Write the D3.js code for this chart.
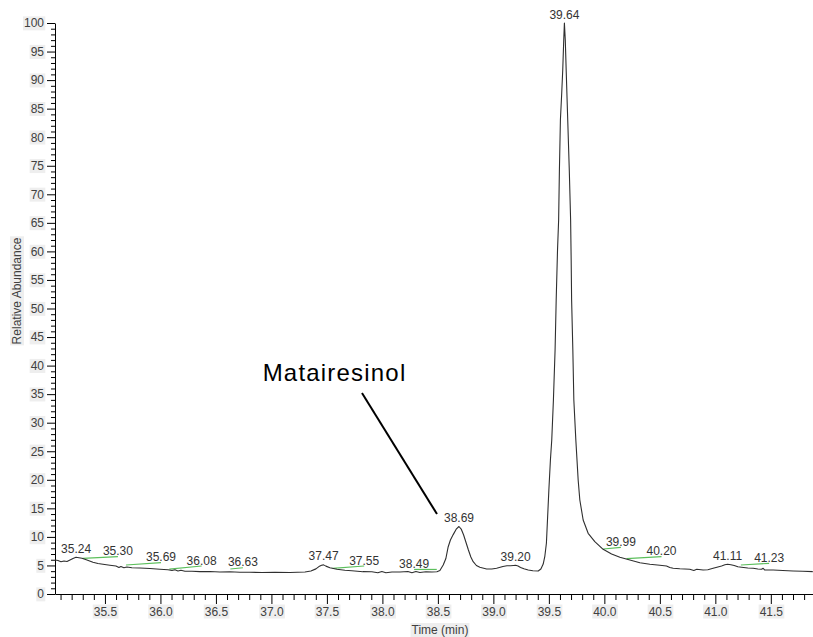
<!DOCTYPE html>
<html>
<head>
<meta charset="utf-8">
<script src="https://cdn.jsdelivr.net/npm/d3@7"></script>
<style>
  html, body { margin: 0; padding: 0; background: #ffffff; }
  svg { display: block; font-family: Arial, "Liberation Sans", sans-serif; }
</style>
</head>
<body>
<script>
// Chromatogram trace: retention time (min) and relative abundance (%)
const traceTime = [
  35.050, 35.077, 35.104, 35.131, 35.158, 35.185, 35.212, 35.239, 35.266, 35.293,
  35.338, 35.392, 35.437, 35.482, 35.545, 35.599, 35.626, 35.644, 35.671, 35.698,
  35.743, 35.815, 35.905, 35.995, 36.068, 36.104, 36.131, 36.158, 36.185, 36.221,
  36.284, 36.356, 36.446, 36.536, 36.626, 36.716, 36.806, 36.914, 37.032, 37.167,
  37.302, 37.356, 37.401, 37.428, 37.452, 37.470, 37.491, 37.527, 37.590, 37.662,
  37.725, 37.824, 37.905, 37.959, 37.995, 38.032, 38.086, 38.158, 38.230, 38.266,
  38.302, 38.338, 38.392, 38.446, 38.491, 38.518, 38.548, 38.572, 38.593, 38.613,
  38.638, 38.665, 38.690, 38.710, 38.732, 38.755, 38.775, 38.797, 38.818, 38.847,
  38.878, 38.939, 38.986, 39.029, 39.086, 39.122, 39.155, 39.180, 39.200, 39.222,
  39.245, 39.275, 39.314, 39.356, 39.404, 39.428, 39.449, 39.464, 39.478, 39.500,
  39.514, 39.526, 39.541, 39.556, 39.566, 39.578, 39.588, 39.595, 39.604, 39.615,
  39.625, 39.634, 39.640, 39.648, 39.656, 39.670, 39.684, 39.696, 39.701, 39.705,
  39.716, 39.725, 39.743, 39.764, 39.779, 39.809, 39.854, 39.914, 39.989, 40.065,
  40.140, 40.230, 40.320, 40.410, 40.500, 40.560, 40.590, 40.620, 40.680, 40.770,
  40.806, 40.833, 40.890, 40.932, 40.980, 41.023, 41.056, 41.086, 41.110, 41.140,
  41.170, 41.203, 41.236, 41.293, 41.341, 41.383, 41.416, 41.431, 41.446, 41.521,
  41.608, 41.701, 41.788, 41.878
];
const traceAbundance = [
  5.95, 5.87, 5.66, 5.78, 5.69, 5.95, 6.22, 6.43, 6.34, 6.25,
  5.95, 5.55, 5.34, 5.20, 5.03, 4.90, 4.64, 4.82, 4.59, 4.73,
  4.61, 4.55, 4.47, 4.33, 4.24, 4.12, 4.24, 4.03, 4.15, 3.98,
  3.98, 3.91, 3.94, 3.85, 3.89, 3.82, 3.80, 3.77, 3.80, 3.77,
  3.85, 4.03, 4.40, 4.80, 5.02, 5.10, 4.88, 4.61, 4.33, 4.15,
  4.06, 3.91, 3.89, 3.71, 3.94, 3.71, 3.85, 3.85, 3.94, 3.71,
  3.94, 3.77, 3.89, 3.85, 3.91, 4.12, 5.08, 6.22, 8.28, 9.46,
  10.40, 11.35, 11.82, 11.38, 10.33, 8.93, 7.71, 6.48, 5.66, 4.99,
  4.68, 4.38, 4.38, 4.50, 4.82, 4.94, 4.96, 4.99, 5.02, 4.90,
  4.66, 4.41, 4.20, 4.06, 4.03, 4.38, 5.25, 6.65, 8.93, 18.21,
  23.47, 26.97, 33.98, 42.73, 51.49, 60.25, 65.50, 74.26, 83.01, 87.39,
  91.77, 97.02, 100.0, 97.02, 91.77, 83.01, 74.26, 65.50, 58.49, 51.49,
  42.73, 33.98, 26.97, 19.96, 16.46, 12.96, 10.63, 9.16, 7.83, 7.01,
  6.43, 5.95, 5.48, 5.20, 5.03, 4.90, 4.64, 4.50, 4.41, 4.33,
  4.12, 4.33, 4.20, 4.26, 4.50, 4.73, 4.90, 5.11, 5.22, 5.11,
  4.99, 4.76, 4.68, 4.55, 4.50, 4.38, 4.33, 4.50, 4.20, 4.20,
  4.12, 4.03, 3.98, 3.91
];

// Peaks labelled at their apex
const apexLabels = ["35.24", "37.47", "38.69", "39.20", "39.64", "41.11"];

// Peaks labelled with an integration baseline (green); label sits at the far end
const baselineLabels = ["35.30", "35.69", "36.08", "36.63", "37.55", "38.49", "39.99", "40.20", "41.23"];
const baselineEndTime = [35.617, 36.005, 36.371, 36.743, 37.836, 38.286, 40.149, 40.515, 41.485];
const baselineStartLevel = [6.25, 5.08, 4.35, 4.38, 4.50, 4.30, 7.88, 6.19, 5.08];
const baselineEndLevel = [6.53, 5.49, 4.90, 4.60, 4.90, 4.30, 8.18, 6.54, 5.37];

// Axis ticks
const xMajorTicks = [35.5, 36.0, 36.5, 37.0, 37.5, 38.0, 38.5, 39.0, 39.5, 40.0, 40.5, 41.0, 41.5];
const yMajorTicks = [0, 5, 10, 15, 20, 25, 30, 35, 40, 45, 50, 55, 60, 65, 70, 75, 80, 85, 90, 95, 100];

// Compound annotation pointing at the 38.69 peak
const annotationText = "Matairesinol";
const annotationLeaderTime = [37.816, 38.492];
const annotationLeaderLevel = [35.2, 14.0];
const annotationTextTime = 36.921;
const annotationTextLevel = 37.3;

const W = 813, H = 637;
const x = d3.scaleLinear().domain([35.05, 41.88]).range([55, 813]);
const y = d3.scaleLinear().domain([0, 100]).range([594, 23]);

const svg = d3.select("body").append("svg").attr("width", W).attr("height", H);

const trace = traceTime.map((t, i) => ({ t, v: traceAbundance[i] }));

// ---- axes ----
const labelBg = "#eeeeee";
const tickColor = "#404040";

const xMinor = d3.range(35.1, 41.85, 0.1).map(v => +v.toFixed(1)).filter(v => !xMajorTicks.includes(v));
svg.append("g")
  .attr("transform", "translate(0,594)")
  .call(d3.axisBottom(x).tickValues(xMinor).tickSize(6).tickFormat(""))
  .call(g => g.select(".domain").remove());
const gx = svg.append("g")
  .attr("transform", "translate(0,594)")
  .call(d3.axisBottom(x).tickValues(xMajorTicks).tickSize(10).tickSizeOuter(0).tickPadding(3).tickFormat(d3.format(".1f")));

const yMinor = d3.range(0, 101, 1).filter(v => v % 5 !== 0);
svg.append("g")
  .attr("transform", "translate(55,0)")
  .call(d3.axisLeft(y).tickValues(yMinor).tickSize(4).tickFormat(""))
  .call(g => g.select(".domain").remove());
const gy = svg.append("g")
  .attr("transform", "translate(55,0)")
  .call(d3.axisLeft(y).tickValues(yMajorTicks).tickSize(8).tickSizeOuter(0).tickPadding(3).tickFormat(d3.format("d")));

svg.selectAll(".tick line").attr("stroke", "#000");
svg.selectAll(".domain").attr("stroke", "#000");
[gx, gy].forEach(g => {
  g.selectAll("text").attr("font-size", 12).attr("fill", tickColor).attr("font-family", "Arial, 'Liberation Sans', sans-serif");
  g.selectAll(".tick").each(function () {
    const tk = d3.select(this);
    const bb = tk.select("text").node().getBBox();
    tk.insert("rect", "text")
      .attr("x", bb.x - 1).attr("y", bb.y).attr("width", bb.width + 2).attr("height", bb.height)
      .attr("fill", labelBg);
  });
});

// axis titles, each on a light background box
function withBackground(textSel) {
  const bb = textSel.node().getBBox();
  d3.select(textSel.node().parentNode).insert("rect", "text")
    .attr("x", bb.x - 1).attr("y", bb.y).attr("width", bb.width + 2).attr("height", bb.height)
    .attr("fill", labelBg);
}
const xt = svg.append("g").append("text")
  .attr("x", 440).attr("y", 634)
  .attr("text-anchor", "middle").attr("font-size", 12).attr("fill", tickColor)
  .text("Time (min)");
withBackground(xt);
const ytG = svg.append("g").attr("transform", "translate(21,291) rotate(-90)");
const yt = ytG.append("text")
  .attr("x", 0).attr("y", 0)
  .attr("text-anchor", "middle").attr("font-size", 12).attr("fill", tickColor)
  .text("Relative Abundance");
withBackground(yt);

// ---- integration baselines ----
const baselines = baselineLabels.map((lab, i) => ({
  lab, t0: +lab, t1: baselineEndTime[i], v0: baselineStartLevel[i], v1: baselineEndLevel[i]
}));
svg.append("g").selectAll("line").data(baselines).join("line")
  .attr("x1", d => x(d.t0)).attr("y1", d => y(d.v0))
  .attr("x2", d => x(d.t1)).attr("y2", d => y(d.v1))
  .attr("stroke", "#5cbf5c").attr("stroke-width", 1.2);

// ---- trace ----
svg.append("path")
  .datum(trace)
  .attr("fill", "none")
  .attr("stroke", "#2f2f2f")
  .attr("stroke-width", 1.1)
  .attr("stroke-linejoin", "round")
  .attr("d", d3.line().x(d => x(d.t)).y(d => y(d.v)));

// ---- peak labels ----
const labelColor = "#333333";
const apexPeaks = apexLabels.map(lab => {
  const rt = +lab;
  const near = trace.filter(p => Math.abs(p.t - rt) <= 0.04);
  const top = d3.max(near, p => p.v);
  return { lab, rt, top };
});
svg.append("g").selectAll("text").data(apexPeaks).join("text")
  .attr("x", d => x(d.rt)).attr("y", d => y(d.top) - 4.5)
  .attr("text-anchor", "middle").attr("font-size", 12).attr("fill", labelColor)
  .text(d => d.lab);

svg.append("g").selectAll("text").data(baselines).join("text")
  .attr("x", d => x(d.t1)).attr("y", d => y(d.v1) - 1.5)
  .attr("text-anchor", "middle").attr("font-size", 12).attr("fill", labelColor)
  .text(d => d.lab);

// ---- compound annotation ----
svg.append("line")
  .attr("x1", x(annotationLeaderTime[0])).attr("y1", y(annotationLeaderLevel[0]))
  .attr("x2", x(annotationLeaderTime[1])).attr("y2", y(annotationLeaderLevel[1]))
  .attr("stroke", "#000").attr("stroke-width", 2);
svg.append("text")
  .attr("x", x(annotationTextTime)).attr("y", y(annotationTextLevel))
  .attr("font-size", 24).attr("letter-spacing", "1.2px").attr("fill", "#000")
  .text(annotationText);
</script>
</body>
</html>
